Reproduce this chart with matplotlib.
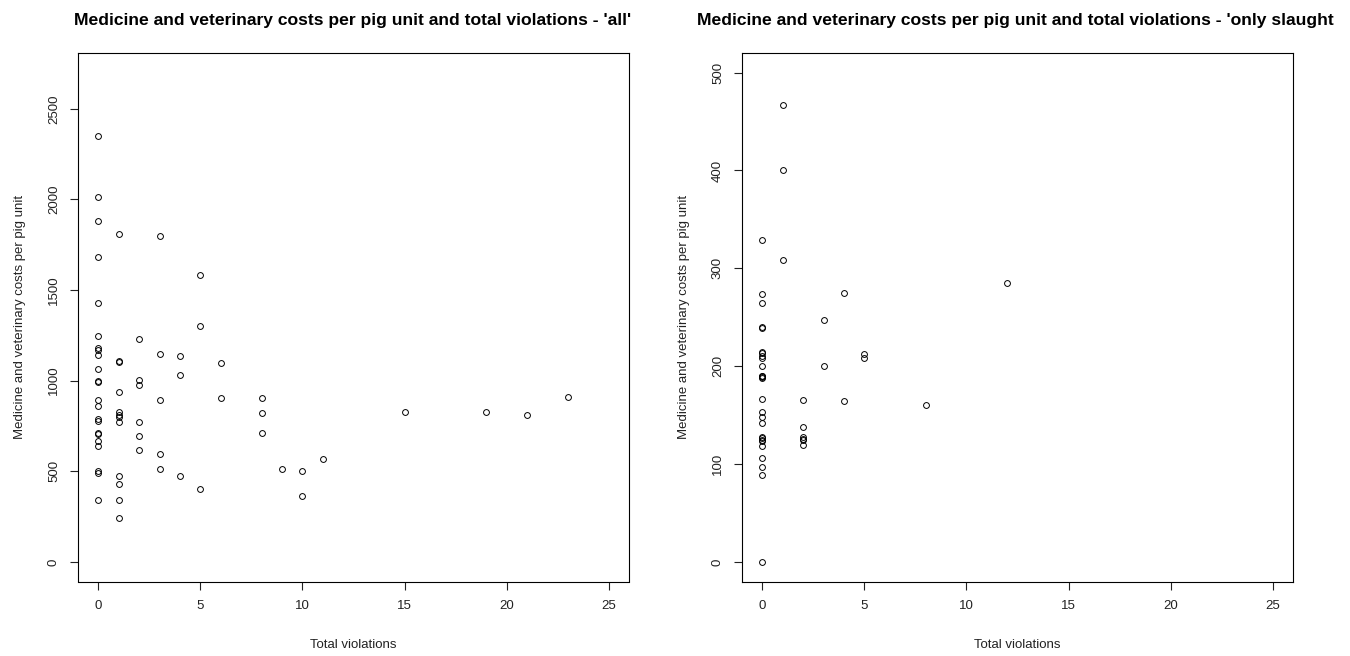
import numpy as np
import matplotlib
matplotlib.use('Agg')
from matplotlib import pyplot as plt

plt.rcParams['font.family'] = ['Liberation Sans', 'DejaVu Sans']

# left panel: all herds
viol_all = [0]*23 + [1]*12 + [2]*6 + [3]*5 + [4]*3 + [5]*3 + [6]*2 + [8]*3 + [9, 10, 10, 11, 15, 19, 21, 23]
cost_all = [2348, 2015, 1881, 1681, 1427, 1245, 1178, 1169, 1142, 1064, 1000, 994, 893, 860, 789, 779, 713, 706, 669, 638, 500, 489, 342,
            1809, 1110, 1103, 939, 829, 812, 798, 770, 474, 428, 342, 241,
            1228, 1004, 978, 774, 693, 616,
            1798, 1147, 892, 596, 515,
            1138, 1029, 474,
            1583, 1303, 402,
            1096, 903,
            903, 821, 709,
            510, 504, 366, 566, 826, 826, 812, 908]

# right panel: only slaughter pigs
viol_sl = [0]*27 + [1]*3 + [2]*6 + [3]*2 + [4]*2 + [5]*2 + [8, 12]
cost_sl = [329, 274, 265, 240, 239, 215, 213, 210, 208, 200, 190, 189, 166, 153, 148, 142, 128, 127, 125, 124, 118, 106, 97, 89, 0, 190, 188,
           467, 400, 308,
           165, 138, 128, 126, 125, 119,
           247, 200,
           275, 164,
           212, 208,
           160, 285]

xticks = [0, 5, 10, 15, 20, 25]

fig = plt.figure(figsize=(13.5, 6.56), dpi=100)
ax1 = fig.add_axes([78/1350, 74.5/656, 551/1350, 528.5/656])
ax2 = fig.add_axes([742/1350, 74.5/656, 551/1350, 528.5/656])

def panel(ax, x, y, ylim, yticks):
    ax.plot(x, y, 'o', mfc='none', mec='black', ms=4.2, mew=0.7)
    ax.set_xlim(-1, 26)
    lo, hi = ylim
    pad = 0.04*(hi - lo)
    ax.set_ylim(lo - pad, hi + pad)
    ax.set_xticks(xticks)
    ax.set_yticks(yticks)
    ax.set_yticklabels([str(t) for t in yticks], rotation=90, va='center')
    ax.tick_params(direction='out', length=6, width=0.8, labelsize=9.5, colors='#222222', pad=7)
    ax.tick_params(axis='y', pad=7)
    for s in ax.spines.values():
        s.set_linewidth(0.8)
    ax.set_xlabel('Total violations', fontsize=9.5, labelpad=20, color='#222222')
    ax.set_ylabel('Medicine and veterinary costs per pig unit', fontsize=9.5, labelpad=16, color='#222222')

panel(ax1, viol_all, cost_all, (0, 2700), [0, 500, 1000, 1500, 2000, 2500])
panel(ax2, viol_sl, cost_sl, (0, 500), [0, 100, 200, 300, 400, 500])

# titles (the right one runs off the edge in the original)
fig.text(353/1350, 1 - 20/656, "Medicine and veterinary costs per pig unit and total violations - 'all'",
         ha='center', va='center', fontsize=12.6, fontweight='bold')
fig.text(697/1350, 1 - 20/656, "Medicine and veterinary costs per pig unit and total violations - 'only slaught",
         ha='left', va='center', fontsize=12.6, fontweight='bold')

plt.savefig('out.png', dpi=100)
